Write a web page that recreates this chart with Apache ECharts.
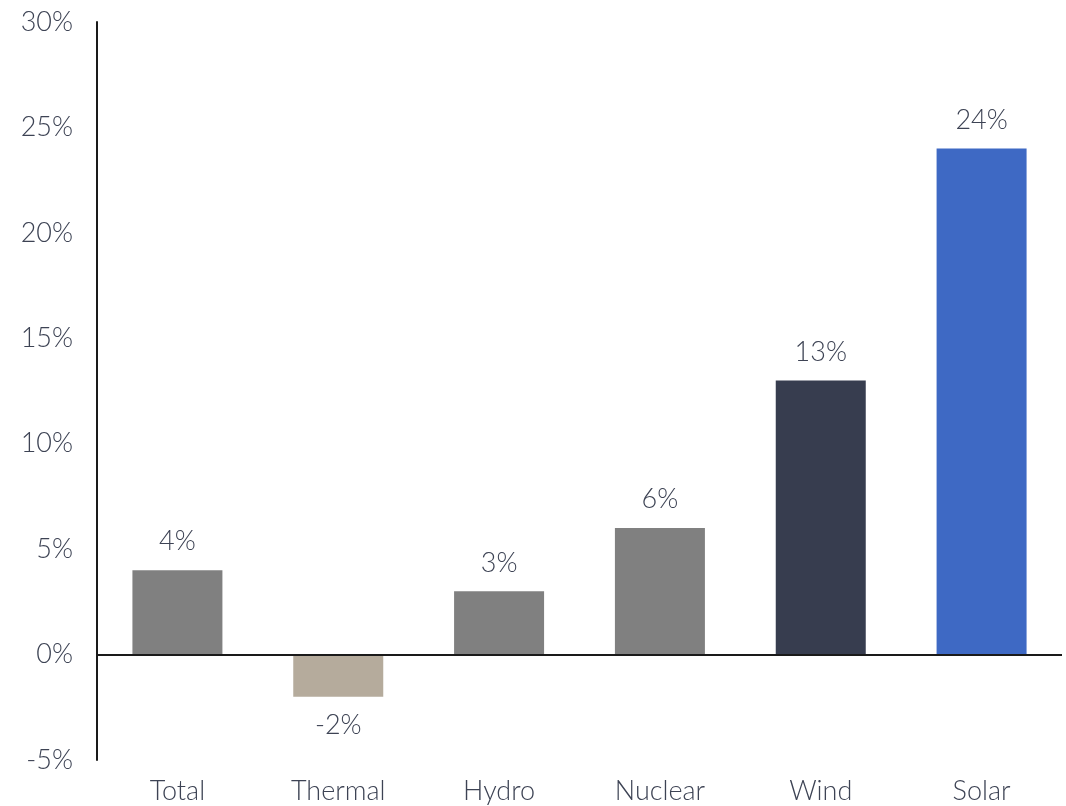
<!DOCTYPE html>
<html><head><meta charset="utf-8">
<script src="https://cdn.jsdelivr.net/npm/echarts@6/dist/echarts.min.js"></script>
<style>html,body{margin:0;padding:0;background:#fff}#c{width:1066px;height:806px}</style>
</head><body><div id="c"></div>
<script>
const categories = ['Total','Thermal','Hydro','Nuclear','Wind','Solar'];
const values = [4, -2, 3, 6, 13, 24];
const barColors = ['#808080','#b5ab9c','#808080','#808080','#373d4f','#3e69c4'];
const yTicks = [-5, 0, 5, 10, 15, 20, 25, 30];

const FONT = 'Lato';
const TXT = '#3d4354';
const chart = echarts.init(document.getElementById('c'));
chart.setOption({
  animation: false,
  grid: { left: 97, right: 4, top: 22, bottom: 46 },
  xAxis: {
    type: 'category', data: categories,
    axisLine: { show: false, onZero: false }, axisTick: { show: false },
    position: 'bottom',
    axisLabel: { color: TXT, fontSize: 27, fontFamily: FONT, fontWeight: 300, margin: 18 }
  },
  yAxis: {
    type: 'value', min: yTicks[0], max: yTicks[yTicks.length-1], interval: 5,
    axisLine: { show: true, lineStyle: { color: '#1a1a1a', width: 2 } },
    axisTick: { show: false }, splitLine: { show: false },
    axisLabel: { color: TXT, fontSize: 27, fontFamily: FONT, fontWeight: 300, margin: 24,
      formatter: v => v + '%' }
  },
  series: [{
    type: 'bar', barWidth: 90,
    data: values.map((v, i) => ({
      value: v, itemStyle: { color: barColors[i] },
      label: { position: v < 0 ? 'bottom' : 'top' }
    })),
    label: { show: true, color: TXT, fontSize: 27, fontFamily: FONT, fontWeight: 300, distance: 15,
      formatter: p => p.value + '%' },
    markLine: {
      silent: true, symbol: 'none', label: { show: false },
      lineStyle: { color: '#1a1a1a', width: 2, type: 'solid' },
      data: [{ yAxis: 0 }]
    }
  }]
});
</script></body></html>
